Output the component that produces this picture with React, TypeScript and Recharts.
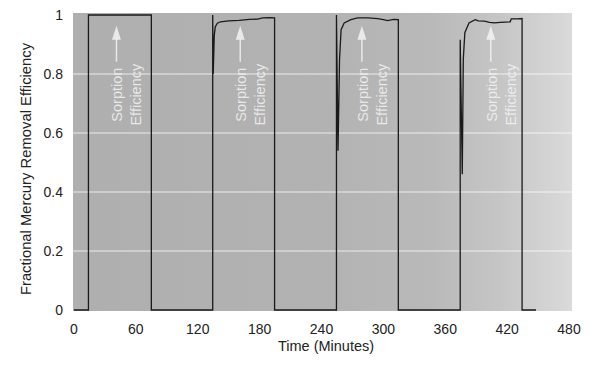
// Sorption cycles: fractional mercury removal efficiency over time.
// Four sorption runs, each followed by an off-line period at zero.
import { CartesianGrid, Label, Line, LineChart, ReferenceDot, XAxis, YAxis } from "recharts";

const FONT = '"Liberation Sans", Arial, Helvetica, sans-serif';

const timeTicks = [0, 60, 120, 180, 240, 300, 360, 420, 480];
const efficiencyTicks = [0, 0.2, 0.4, 0.6, 0.8, 1];

// [minutes, fractional efficiency]
const run1: [number, number][] = [
  [0, 0], [14, 0], [14, 1], [75, 1], [75, 0],
];
const run2: [number, number][] = [
  [134.5, 0], [134.5, 1], [135, 0.8], [136, 0.93], [137, 0.96], [139, 0.972], [142, 0.977],
  [150, 0.98], [160, 0.982], [170, 0.985], [178, 0.986], [183, 0.99], [190, 0.991],
  [194.5, 0.99], [194.5, 0],
];
const run3: [number, number][] = [
  [254.5, 0], [254.5, 1], [256, 0.54], [257.5, 0.85], [259, 0.95], [262, 0.973],
  [268.5, 0.984], [275, 0.99], [285, 0.99], [294.5, 0.988], [300, 0.984], [304, 0.981],
  [310, 0.985], [314.5, 0.984], [314.5, 0],
];
const run4: [number, number][] = [
  [374.5, 0], [374.5, 0.916], [376.5, 0.46], [377.5, 0.85], [379, 0.94], [383, 0.973],
  [389, 0.984], [392, 0.98], [398, 0.979], [403, 0.975], [408, 0.973], [413, 0.975],
  [418, 0.976], [423, 0.977], [424, 0.987], [430, 0.987], [434.5, 0.988], [434.5, 0],
];
const tail: [number, number][] = [[448, 0]];

// where the "Sorption Efficiency" note sits in each run (minutes)
const noteTimes = [47, 167, 285, 410];

const data = [...run1, ...run2, ...run3, ...run4, ...tail].map(([t, v]) => ({ t, v }));

const NOTE_FILL = "#f3f3f3";

function SorptionNote({ cx, cy }: { cx?: number; cy?: number }) {
  if (cx == null || cy == null) return <g />;
  const ax = cx - 6;
  const ex = cx + 19;
  return (
    <g fill={NOTE_FILL} fillOpacity={0.85} fontFamily={FONT} fontSize={14.5}>
      <line x1={ax} y1={cy - 56} x2={ax} y2={cy - 33} stroke={NOTE_FILL} strokeOpacity={0.85} strokeWidth={1.5} />
      <polygon points={`${ax},${cy - 69} ${ax - 4.5},${cy - 55} ${ax + 4.5},${cy - 55}`} />
      <text transform={`rotate(-90 ${cx} ${cy})`} x={cx} y={cy} textAnchor="middle">
        Sorption
      </text>
      <text transform={`rotate(-90 ${ex} ${cy})`} x={ex} y={cy} textAnchor="middle">
        Efficiency
      </text>
    </g>
  );
}

export default function App() {
  return (
    <div style={{ position: "absolute", left: 0, top: 0, width: 600, height: 365, background: "#fff" }}>
      <LineChart width={600} height={365} data={data} margin={{ top: 13, right: 28, bottom: 24, left: 13 }}>
        <defs>
          <linearGradient id="plotBg" x1="0" y1="0" x2="1" y2="0">
            <stop offset="0%" stopColor="#afafaf" />
            <stop offset="50%" stopColor="#b2b2b2" />
            <stop offset="72%" stopColor="#b9b9b9" />
            <stop offset="86%" stopColor="#c6c6c6" />
            <stop offset="100%" stopColor="#dadada" />
          </linearGradient>
        </defs>
        <CartesianGrid
          vertical={false}
          horizontalValues={[0.2, 0.4, 0.6, 0.8]}
          stroke="#ffffff"
          strokeOpacity={0.75}
          strokeWidth={1}
          fill="url(#plotBg)"
          fillOpacity={1}
        />
        <XAxis
          dataKey="t"
          type="number"
          domain={[0, 480]}
          ticks={timeTicks}
          padding={{ left: 1, right: 3 }}
          axisLine={false}
          tickLine={false}
          tickSize={0}
          tickMargin={13}
          height={30}
          tick={{ fontSize: 14, fill: "#222", fontFamily: FONT }}
        >
          <Label
            content={({ viewBox }: any) => {
              const vb = viewBox ?? { x: 73, y: 311, width: 499, height: 30 };
              return (
                <text
                  x={vb.x + vb.width / 2 + 3.5}
                  y={vb.y + 40}
                  textAnchor="middle"
                  fontSize={14.5}
                  fill="#222"
                  fontFamily={FONT}
                >
                  Time (Minutes)
                </text>
              );
            }}
          />
        </XAxis>
        <YAxis
          type="number"
          domain={[0, 1]}
          ticks={efficiencyTicks}
          padding={{ top: 2, bottom: 1 }}
          axisLine={false}
          tickLine={false}
          tickSize={0}
          tickMargin={10}
          width={60}
          tick={{ fontSize: 14, fill: "#222", fontFamily: FONT }}
        >
          <Label
            content={({ viewBox }: any) => {
              const vb = viewBox ?? { x: 13, y: 13, width: 60, height: 298 };
              const x = vb.x + 17.7;
              const y = vb.y + vb.height / 2 + 7;
              return (
                <text
                  transform={`rotate(-90 ${x} ${y})`}
                  x={x}
                  y={y}
                  textAnchor="middle"
                  fontSize={14.8}
                  fill="#222"
                  fontFamily={FONT}
                >
                  Fractional Mercury Removal Efficiency
                </text>
              );
            }}
          />
        </YAxis>
        <Line
          dataKey="v"
          type="linear"
          stroke="#1a1a1a"
          strokeWidth={1.3}
          dot={false}
          activeDot={false}
          isAnimationActive={false}
        />
        {noteTimes.map((t) => (
          <ReferenceDot key={t} x={t} y={0.73} r={0} shape={(p: any) => <SorptionNote cx={p.cx} cy={p.cy} />} />
        ))}
      </LineChart>
    </div>
  );
}
